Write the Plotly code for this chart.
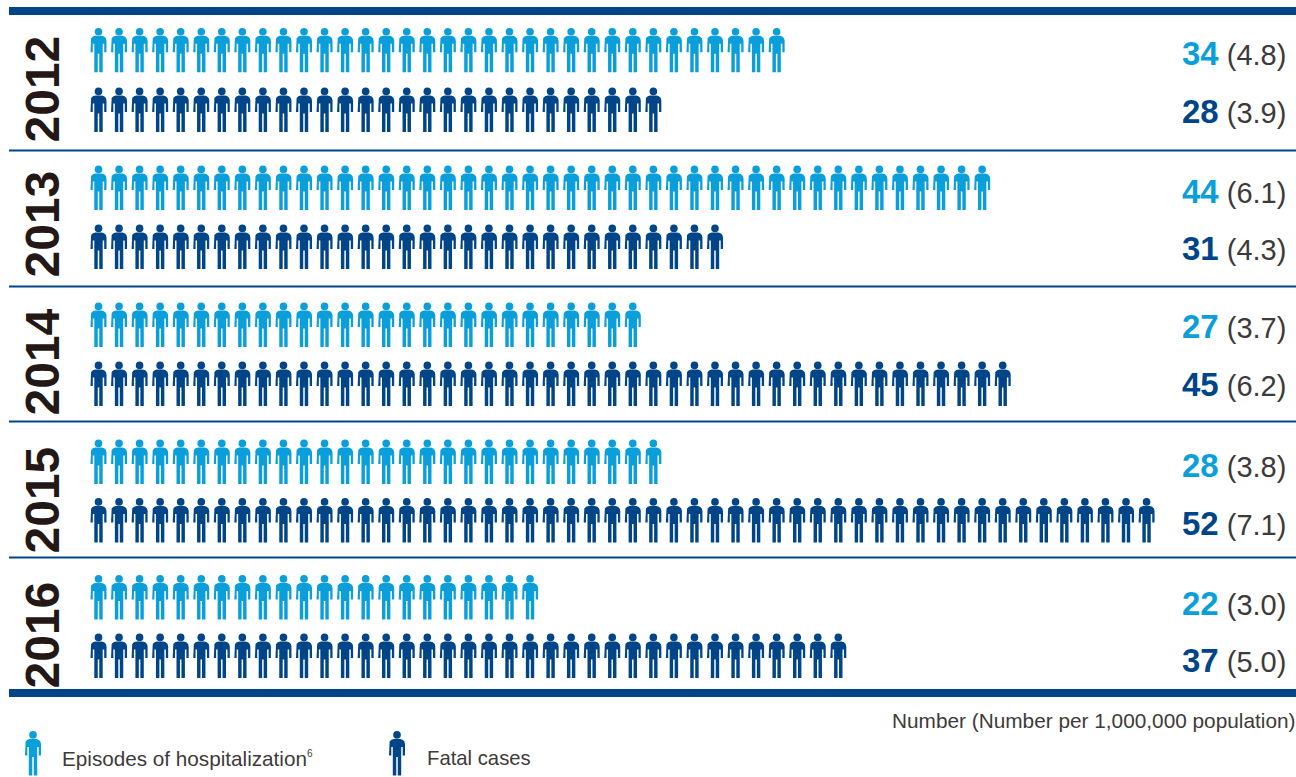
import plotly.graph_objects as go

# Yearly counts and rates per 1,000,000 population
years = [2012, 2013, 2014, 2015, 2016]
hospitalizations = [34, 44, 27, 28, 22]
hospitalization_rates = ["4.8", "6.1", "3.7", "3.8", "3.0"]
fatal_cases = [28, 31, 45, 52, 37]
fatal_rates = ["3.9", "4.3", "6.2", "7.1", "5.0"]

LIGHT = "#0a9fdb"
DARK = "#004588"
YEAR_COLOR = "#231815"
TEXT_COLOR = "#3e3a39"

WIDTH, HEIGHT = 1296, 777
FIRST_X = 98.5   # pixel centre of pictogram no. 1
PITCH = 20.55    # pixels per pictogram

# Vertical layout in pixels (y axis runs top-down in pixels)
HOSP_ROW = [50.3, 188, 325, 462, 597.5]
FATAL_ROW = [110, 247, 384, 520.5, 656]
HOSP_LABEL = [53, 191, 326, 465, 603]
FATAL_LABEL = [111, 248, 384, 523, 660]
YEAR_LABEL = [89, 224, 362, 500, 635]
SEPARATORS = [150.5, 286.5, 421.5, 557.5]


def x_index(px):
    return 1 + (px - FIRST_X) / PITCH


# Person outline in pixel offsets from the figure's centre
BODY = [
    (-8.0, 2), (-8.0, -9.5), (-7.4, -12), (-5.6, -13.8), (-3.2, -14.6), (3.2, -14.6),
    (5.6, -13.8), (7.4, -12), (8.0, -9.5), (8.0, 2), (5.7, 2), (5.7, -6.5), (4.2, -6.5),
    (4.2, 22), (0.75, 22), (0.75, 3.5), (-0.75, 3.5), (-0.75, 22), (-4.2, 22), (-4.2, -6.5),
    (-5.7, -6.5), (-5.7, 2),
]
HEAD_OFFSET = -18.6
HEAD_SIZE = 7.6


def add_people(fig, centres, color):
    """Draw one pictogram per (index, row-y) pair: a filled body and a round head."""
    xs, ys = [], []
    for i, y in centres:
        for dx, dy in BODY + BODY[:1]:
            xs.append(i + dx / PITCH)
            ys.append(y + dy)
        xs.append(None)
        ys.append(None)
    fig.add_trace(go.Scatter(x=xs, y=ys, mode="lines", fill="toself", fillcolor=color,
                             line=dict(width=0, color=color), hoverinfo="skip", showlegend=False))
    fig.add_trace(go.Scatter(x=[c[0] for c in centres], y=[c[1] + HEAD_OFFSET for c in centres],
                             mode="markers", marker=dict(size=HEAD_SIZE, color=color, line=dict(width=0)),
                             hoverinfo="skip", showlegend=False))


fig = go.Figure()

for row, count in zip(HOSP_ROW, hospitalizations):
    add_people(fig, [(i, row) for i in range(1, count + 1)], LIGHT)
for row, count in zip(FATAL_ROW, fatal_cases):
    add_people(fig, [(i, row) for i in range(1, count + 1)], DARK)

# Legend pictograms
add_people(fig, [(x_index(33), 753.5)], LIGHT)
add_people(fig, [(x_index(397), 753.5)], DARK)

shapes = [
    dict(type="rect", xref="paper", yref="y", x0=9 / WIDTH, x1=1, y0=7, y1=15,
         fillcolor=DARK, line_width=0),
    dict(type="rect", xref="paper", yref="y", x0=9 / WIDTH, x1=1, y0=689, y1=697,
         fillcolor=DARK, line_width=0),
]
for y in SEPARATORS:
    shapes.append(dict(type="line", xref="paper", yref="y", x0=9 / WIDTH, x1=1, y0=y, y1=y,
                       line=dict(color=DARK, width=2)))


def note(px, y, text, size, color=TEXT_COLOR, anchor="left", **kw):
    fig.add_annotation(x=x_index(px), y=y, xref="x", yref="y", text=text, showarrow=False,
                       xanchor=anchor, yanchor="middle", align=anchor,
                       font=dict(family="Liberation Sans", size=size, color=color),
                       borderpad=0, **kw)


def value_label(count, rate, color):
    return f'<b><span style="color:{color};font-size:33px">{count}</span></b> ({rate})'


for k, year in enumerate(years):
    note(41.5, YEAR_LABEL[k], f"<b>{year}</b>", 48, YEAR_COLOR, anchor="center", textangle=-90)
    note(1287, HOSP_LABEL[k], value_label(hospitalizations[k], hospitalization_rates[k], LIGHT),
         29, anchor="right")
    note(1287, FATAL_LABEL[k], value_label(fatal_cases[k], fatal_rates[k], DARK),
         29, anchor="right")

note(1296, 720, "Number (Number per 1,000,000 population)", 20.8, anchor="right")
note(61, 758, 'Episodes of hospitalization<sup><span style="font-size:10px">6</span></sup>', 20.7)
note(426, 758, "Fatal cases", 20.3)

fig.update_layout(
    width=WIDTH, height=HEIGHT, margin=dict(l=0, r=0, t=0, b=0),
    paper_bgcolor="white", plot_bgcolor="white", showlegend=False, shapes=shapes,
    xaxis=dict(range=[x_index(0), x_index(WIDTH)], visible=False, fixedrange=True),
    yaxis=dict(range=[HEIGHT, 0], visible=False, fixedrange=True),
)

fig.write_html("out.html", config={"displayModeBar": False})
